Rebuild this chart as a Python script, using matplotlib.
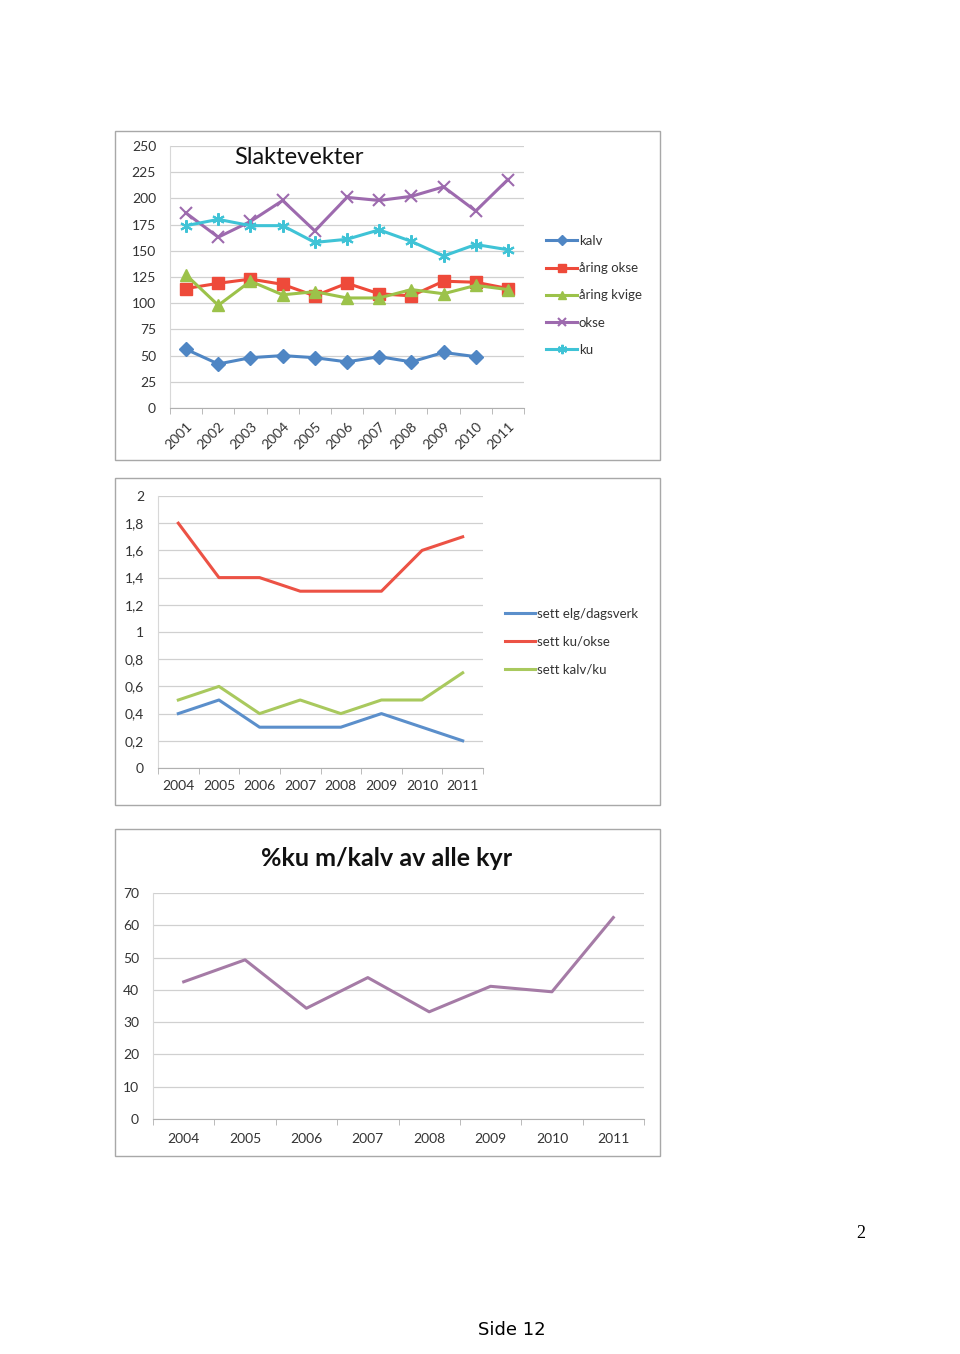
import matplotlib
matplotlib.use('Agg')
from matplotlib import pyplot as plt
from matplotlib.patches import Rectangle
import numpy as np

plt.rcParams['font.family'] = ['Lato', 'DejaVu Sans']

# Slaktevekter
years_a = ['2001', '2002', '2003', '2004', '2005', '2006', '2007', '2008', '2009', '2010', '2011']
kalv = [56, 42, 48, 50, 48, 44, 49, 44, 53, 49, None]
aring_okse = [114, 119, 123, 118, 107, 119, 109, 107, 121, 120, 114]
aring_kvige = [127, 98, 121, 108, 111, 105, 105, 113, 109, 117, 113]
okse = [186, 163, 178, 198, 169, 201, 198, 202, 211, 188, 218]
ku = [174, 180, 174, 174, 158, 161, 170, 159, 145, 156, 151]

# sett elg
years_b = ['2004', '2005', '2006', '2007', '2008', '2009', '2010', '2011']
sett_elg_dagsverk = [0.4, 0.5, 0.3, 0.3, 0.3, 0.4, 0.3, 0.2]
sett_ku_okse = [1.8, 1.4, 1.4, 1.3, 1.3, 1.3, 1.6, 1.7]
sett_kalv_ku = [0.5, 0.6, 0.4, 0.5, 0.4, 0.5, 0.5, 0.7]

# %ku m/kalv
ku_m_kalv = [42.5, 49.3, 34.3, 43.8, 33.2, 41.1, 39.4, 62.4]

W, H = 960, 1354
fig = plt.figure(figsize=(W / 100, H / 100), dpi=100)
fig.patch.set_facecolor('white')


def ax_at(x0, y0, x1, y1):
    return fig.add_axes([x0 / W, 1 - y1 / H, (x1 - x0) / W, (y1 - y0) / H])


def frame(x0, y0, x1, y1):
    fig.add_artist(Rectangle((x0 / W, 1 - y1 / H), (x1 - x0) / W, (y1 - y0) / H,
                             transform=fig.transFigure, fill=False,
                             edgecolor='#a8a8a8', lw=1.0))


def style(ax, n, ymax, step):
    ax.set_xlim(-0.5, n - 0.5)
    ax.set_ylim(0, ymax)
    ax.set_yticks(np.arange(0, ymax + step / 2, step))
    ax.grid(axis='y', color='#d0d0d0', lw=0.9)
    ax.set_axisbelow(True)
    for s in ['top', 'right']:
        ax.spines[s].set_visible(False)
    ax.spines['left'].set_color('#d8d8d8')
    ax.spines['bottom'].set_color('#b0b0b0')
    ax.set_xticks(np.arange(-0.5, n, 1.0), minor=True)
    ax.tick_params(axis='x', which='major', length=0, colors='#333333', labelsize=10)
    ax.tick_params(axis='x', which='minor', length=4, color='#b0b0b0')
    ax.tick_params(axis='y', length=0, colors='#333333', labelsize=10, pad=10)


blue = '#4f86c4'
red = '#ee4a3a'
green = '#9cc24a'
purple = '#9d6aae'
cyan = '#3fc3d6'

# ---- chart 1
frame(115, 131, 660, 460)
ax1 = ax_at(170, 146, 524, 408)
x = np.arange(len(years_a))
kalv_v = np.array([np.nan if v is None else v for v in kalv], dtype=float)
ax1.plot(x, kalv_v, color=blue, lw=2.2, marker='D', ms=7, label='kalv')
ax1.plot(x, aring_okse, color=red, lw=2.2, marker='s', ms=8, label='åring okse')
ax1.plot(x, aring_kvige, color=green, lw=2.2, marker='^', ms=8, label='åring kvige')
ax1.plot(x, okse, color=purple, lw=2.2, marker='x', ms=8, mew=1.5, label='okse')
ax1.plot(x, ku, color=cyan, lw=2.2, marker=(6, 2, 0), ms=9, mew=1.5, label='ku')
style(ax1, len(years_a), 250, 25)
ax1.set_xticks(x)
ax1.set_xticklabels(years_a, rotation=45, ha='right', va='top', rotation_mode='anchor')
ax1.tick_params(axis='x', which='major', pad=9)
ax1.text(0.18, 0.955, 'Slaktevekter', transform=ax1.transAxes, fontsize=17,
         color='#111111', va='center')
ax1.legend(loc='center left', bbox_to_anchor=(1.03, 0.43), frameon=False,
           fontsize=9.5, handlelength=2.3, handletextpad=0.15, labelspacing=1.15,
           labelcolor='#333333', markerscale=0.75)

# ---- chart 2
frame(115, 478, 660, 805)
ax2 = ax_at(158, 496, 483, 768)
x = np.arange(len(years_b))
ax2.plot(x, sett_elg_dagsverk, color='#5b8fcb', lw=2.2, label='sett elg/dagsverk')
ax2.plot(x, sett_ku_okse, color='#ec5245', lw=2.2, label='sett ku/okse')
ax2.plot(x, sett_kalv_ku, color='#a9c95e', lw=2.2, label='sett kalv/ku')
style(ax2, len(years_b), 2, 0.2)
ax2.set_yticks(np.arange(0, 2.01, 0.2))
ax2.set_yticklabels(['0', '0,2', '0,4', '0,6', '0,8', '1', '1,2', '1,4', '1,6', '1,8', '2'])
ax2.set_xticks(x)
ax2.set_xticklabels(years_b)
ax2.tick_params(axis='x', which='major', pad=9)
ax2.legend(loc='center left', bbox_to_anchor=(1.03, 0.465), frameon=False,
           fontsize=9.5, handlelength=2.3, handletextpad=0.15, labelspacing=1.2,
           labelcolor='#333333')

# ---- chart 3
frame(115, 829, 660, 1156)
ax3 = ax_at(153, 893, 644, 1119)
ax3.plot(x, ku_m_kalv, color='#a57ba6', lw=2.2)
style(ax3, len(years_b), 70, 10)
ax3.set_xticks(x)
ax3.set_xticklabels(years_b)
ax3.tick_params(axis='x', which='major', pad=10)
fig.text(387 / W, 1 - 859 / H, '%ku m/kalv av alle kyr', fontsize=18,
         fontweight='bold', color='#111111', ha='center', va='center')

# ---- page text
fig.text(861 / W, 1 - 1234 / H, '2', family='Liberation Serif', fontsize=13,
         ha='center', va='center')
fig.text(512 / W, 1 - 1330 / H, 'Side 12', family='DejaVu Sans', fontsize=13,
         ha='center', va='center')

fig.savefig('out.png', dpi=100)
